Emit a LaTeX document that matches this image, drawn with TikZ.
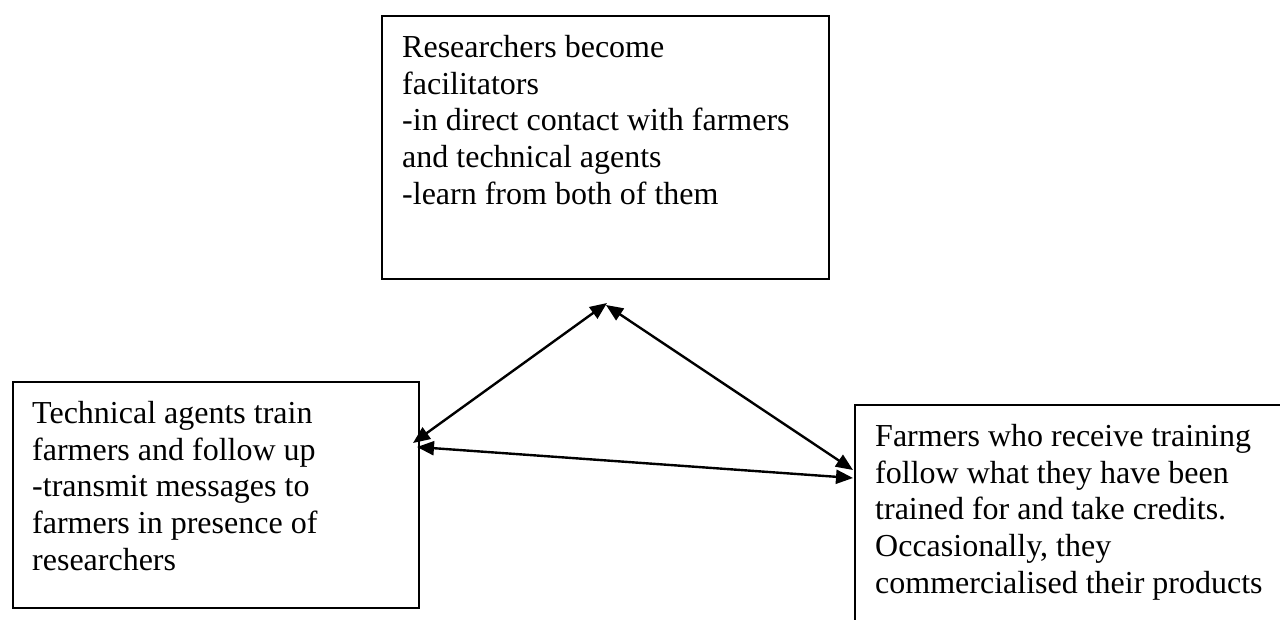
\documentclass[tikz,border=0pt]{standalone}
\usepackage{fontspec}
\setmainfont{Liberation Serif}
\usetikzlibrary{arrows.meta}
\tikzset{
  box/.style={draw=black, line width=1.8pt, anchor=north west, inner sep=0pt, fill=none},
  txt/.style={anchor=north west, inner sep=0pt, align=left, font=\fontsize{32}{36.7}\selectfont},
  link/.style={line width=2.4pt, {Triangle[length=17pt,width=14pt]}-{Triangle[length=17pt,width=14pt]}}
}
\begin{document}
\begin{tikzpicture}[x=1pt,y=-1pt]
\useasboundingbox (0,0) rectangle (1280,620);
\clip (0,0) rectangle (1280,620);
\fill[white] (0,0) rectangle (1280,620);
% boxes
\node[box, minimum width=447pt, minimum height=263pt] (res) at (381,15) {};
\node[box, minimum width=406pt, minimum height=226pt] (tech) at (12,381) {};
\node[box, minimum width=500pt, minimum height=300pt] (farm) at (854,404) {};
% texts
\node[txt] (restext) at (402,35) {Researchers become\\facilitators\\-in direct contact with farmers\\and technical agents\\-learn from both of them};
\node[txt] (techtext) at (32,401) {Technical agents train\\farmers and follow up\\-transmit messages to\\farmers in presence of\\researchers};
\node[txt] (farmtext) at (875,424) {Farmers who receive training\\follow what they have been\\trained for and take credits.\\Occasionally, they\\commercialised their products};
% connector ends
\coordinate (resA) at (607,303);
\coordinate (resB) at (606,305);
\coordinate (techA) at (413,443);
\coordinate (techC) at (417,447);
\coordinate (farmB) at (853,470);
\coordinate (farmC) at (853,478);
% connectors
\draw[link] (techA) -- (resA);
\draw[link] (resB) -- (farmB);
\draw[link] (techC) -- (farmC);
\end{tikzpicture}
\end{document}
